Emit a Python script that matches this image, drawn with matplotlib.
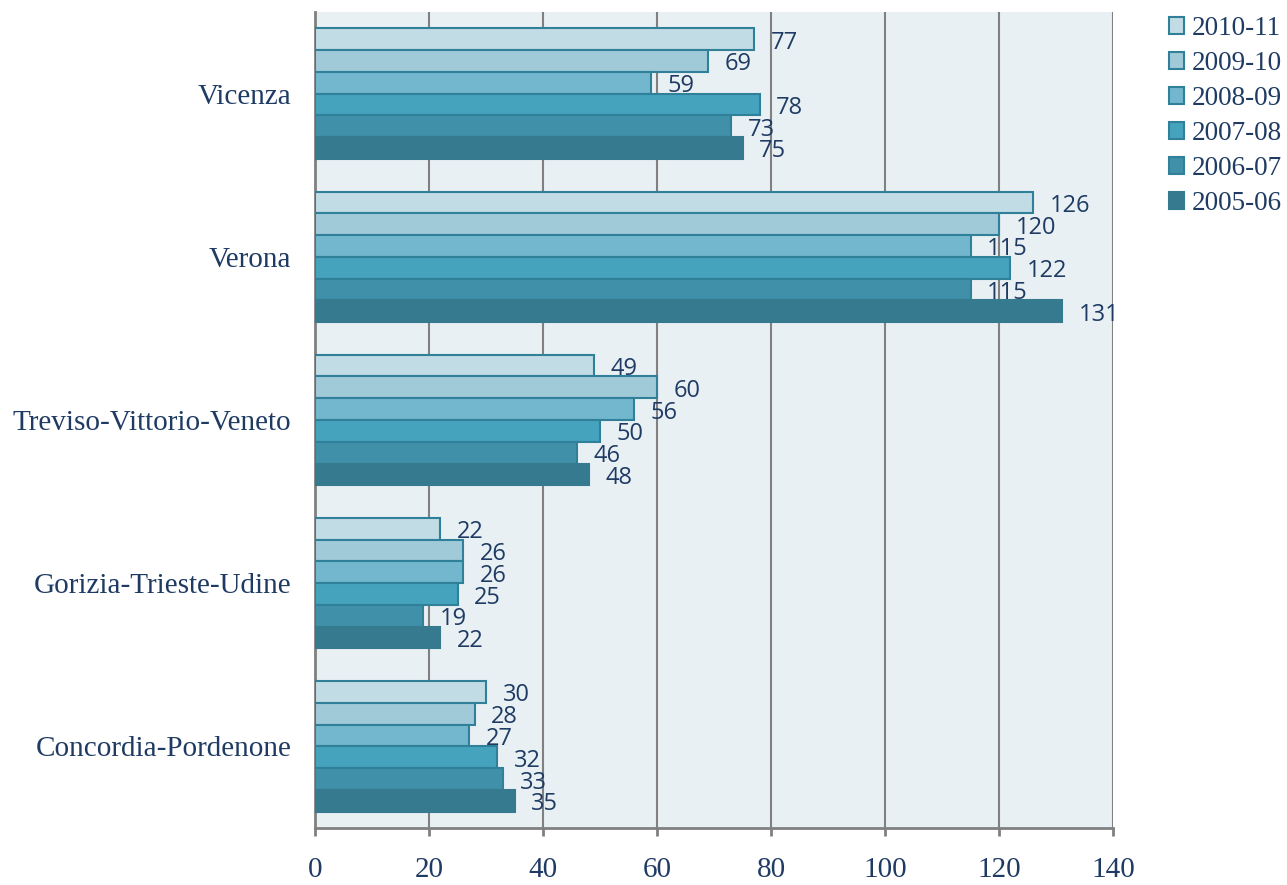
import matplotlib
matplotlib.use("Agg")
import matplotlib.pyplot as plt
import numpy as np

categories = ["Vicenza", "Verona", "Treviso-Vittorio-Veneto",
              "Gorizia-Trieste-Udine", "Concordia-Pordenone"]
series_names = ["2010-11", "2009-10", "2008-09", "2007-08", "2006-07", "2005-06"]
values = {
    "2010-11": [77, 126, 49, 22, 30],
    "2009-10": [69, 120, 60, 26, 28],
    "2008-09": [59, 115, 56, 26, 27],
    "2007-08": [78, 122, 50, 25, 32],
    "2006-07": [73, 115, 46, 19, 33],
    "2005-06": [75, 131, 48, 22, 35],
}
colors = ["#C2DCE5", "#A1CAD9", "#72B7CD", "#45A3BD", "#3F90A8", "#357A8F"]
edge = "#31809A"
text_col = "#1F3B63"
x_ticks = [0, 20, 40, 60, 80, 100, 120, 140]

fig = plt.figure(figsize=(12.87, 8.85), dpi=100)
ax = fig.add_axes([315/1287, 1-828/885, (1113-315)/1287, (828-12)/885])
ax.set_facecolor("#E8F0F4")

n_cat = len(categories)
n_ser = len(series_names)
group_w = 0.8
bar_h = group_w / n_ser
ypos = np.arange(n_cat)

for i, s in enumerate(series_names):
    offs = -group_w/2 + bar_h*(i+0.5)
    y = ypos + offs
    ax.barh(y, values[s], height=bar_h, color=colors[i],
            edgecolor=edge if i < n_ser-1 else colors[i], linewidth=1.5, zorder=3,
            label=s)
    for yy, v in zip(y, values[s]):
        ax.annotate(str(v), xy=(v, yy), xytext=(12, -2.5), textcoords="offset points",
                    ha="left", va="center", fontsize=17, color=text_col,
                    family="Open Sans", zorder=5)

ax.set_ylim(n_cat-0.5, -0.5)
ax.set_xlim(0, 140)
ax.set_xticks(x_ticks)
ax.set_yticks(ypos)
ax.set_yticklabels(categories)
ax.xaxis.grid(True, color="#808080", linewidth=1.5, zorder=0)
ax.set_axisbelow(True)
for sp in ["top", "right"]:
    ax.spines[sp].set_visible(False)
for sp in ["left", "bottom"]:
    ax.spines[sp].set_color("#808080")
    ax.spines[sp].set_linewidth(2)
ax.tick_params(axis="y", length=0, pad=17)
ax.tick_params(axis="x", length=6, width=2, color="#808080", direction="out", pad=15)
for lab in ax.get_yticklabels() + ax.get_xticklabels():
    lab.set_family("Liberation Serif")
    lab.set_fontsize(21)
    lab.set_color(text_col)

handles, labels = ax.get_legend_handles_labels()
leg = fig.legend(handles, labels, loc="upper left", bbox_to_anchor=(1169/1287, 1-16/885),
                 frameon=False, prop={"family": "Liberation Serif", "size": 19.5},
                 handlelength=0.55, handleheight=0.55, handletextpad=0.3, labelspacing=0.37,
                 borderaxespad=0, borderpad=0)
for t in leg.get_texts():
    t.set_color(text_col)

fig.savefig("out.png", dpi=100)
